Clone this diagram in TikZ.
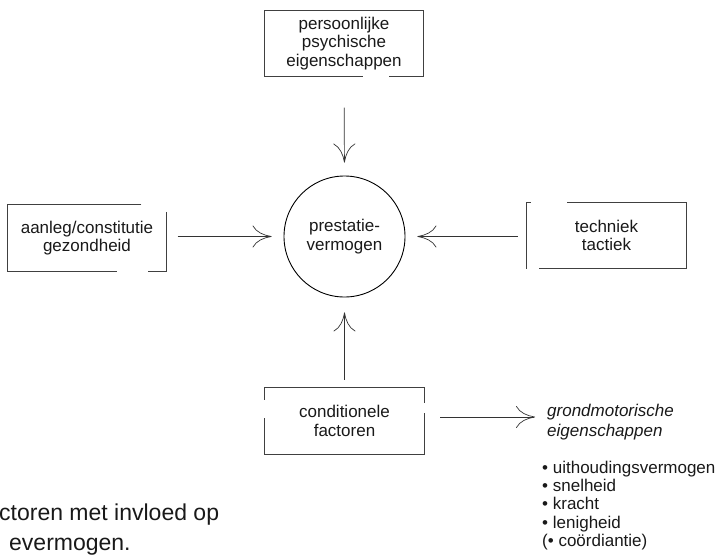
\documentclass[tikz,border=0pt]{standalone}
\usepackage{fontspec}
\setmainfont{Liberation Sans}
\usetikzlibrary{arrows.meta}
\begin{document}
\begin{tikzpicture}[x=1pt,y=-1pt,
  txt/.style={font=\fontsize{17}{18.5}\selectfont, text=black!90},
  box/.style={txt, rectangle, inner sep=0pt,
    minimum width=159pt, minimum height=66pt, align=center},
  edge/.style={draw=black!75, line width=0.7pt},
  circ/.style={txt, draw=black, line width=0.9pt, circle, minimum size=121pt,
    inner sep=0pt, align=center},
  conn/.style={draw=black!80, line width=0.7pt,
    -{Computer Modern Rightarrow[length=19pt,width=22pt]}},
  captxt/.style={txt, anchor=base west, inner sep=0pt, font=\fontsize{23}{30}\selectfont},
]
\useasboundingbox (0,0) rectangle (725,554);

\node[box] (top) at (344,43.5) {persoonlijke\\psychische\\eigenschappen};
\node[circ] (pv) at (344.5,236.5) {prestatie-\\vermogen};
\node[box] (left) at (87,238) {aanleg/constitutie\\gezondheid};
\node[box] (right) at (606.5,235.5) {techniek\\tactiek};
\node[box] (bot) at (344.5,421) {conditionele\\factoren};

% broken box borders
\draw[edge] (top.south west) -- (top.north west) -- (top.north east) -- (top.south east) -- ++(-35,0);
\draw[edge] (top.south west) -- ++(99,0);

\draw[edge] (left.north west) ++(134,0) -- (left.north west) -- (left.south west) -- ++(110,0);
\draw[edge] (left.north east) ++(0,7) -- (left.south east) -- ++(-19,0);

\draw[edge] (right.north west) ++(4,0) -- (right.north west) -- (right.south west);
\draw[edge] (right.north east) ++(-119,0) -- (right.north east) -- (right.south east) -- ++(-147,0);

\draw[edge] (bot.north west) ++(0,12) -- (bot.north west) -- (bot.north east) -- ++(0,15);
\draw[edge] (bot.south west) ++(0,-36) -- (bot.south west) -- (bot.south east) -- ++(0,-41);

\node[txt, anchor=north west, align=left, inner sep=0pt, font=\fontsize{17}{20}\selectfont\itshape]
  (grond) at (547,404) {grondmotorische\\eigenschappen};
\node[txt, anchor=north west, align=left, inner sep=0pt, font=\fontsize{17}{18.2}\selectfont]
  (list) at (542,461) {\textbullet\ uithoudingsvermogen\\\textbullet\ snelheid\\\textbullet\ kracht\\\textbullet\ lenigheid\\(\textbullet\ coördiantie)};

\node[captxt] (cap1) at (-1,520) {ctoren met invloed op};
\node[captxt] (cap2) at (9,550) {evermogen.};

\coordinate (gt) at (535,417);

\draw[conn, shorten <=31pt, shorten >=13pt] (top.south) -- (pv.north);
\draw[conn, shorten <=11pt, shorten >=12pt] (left.east |- pv.center) -- (pv.west);
\draw[conn, shorten <=9pt, shorten >=12pt] (right.west |- pv.center) -- (pv.east);
\draw[conn, shorten <=8pt, shorten >=15pt] (bot.north) -- (pv.south);
\draw[conn, shorten <=16pt] (bot.east |- gt) -- (gt);
\end{tikzpicture}
\end{document}
